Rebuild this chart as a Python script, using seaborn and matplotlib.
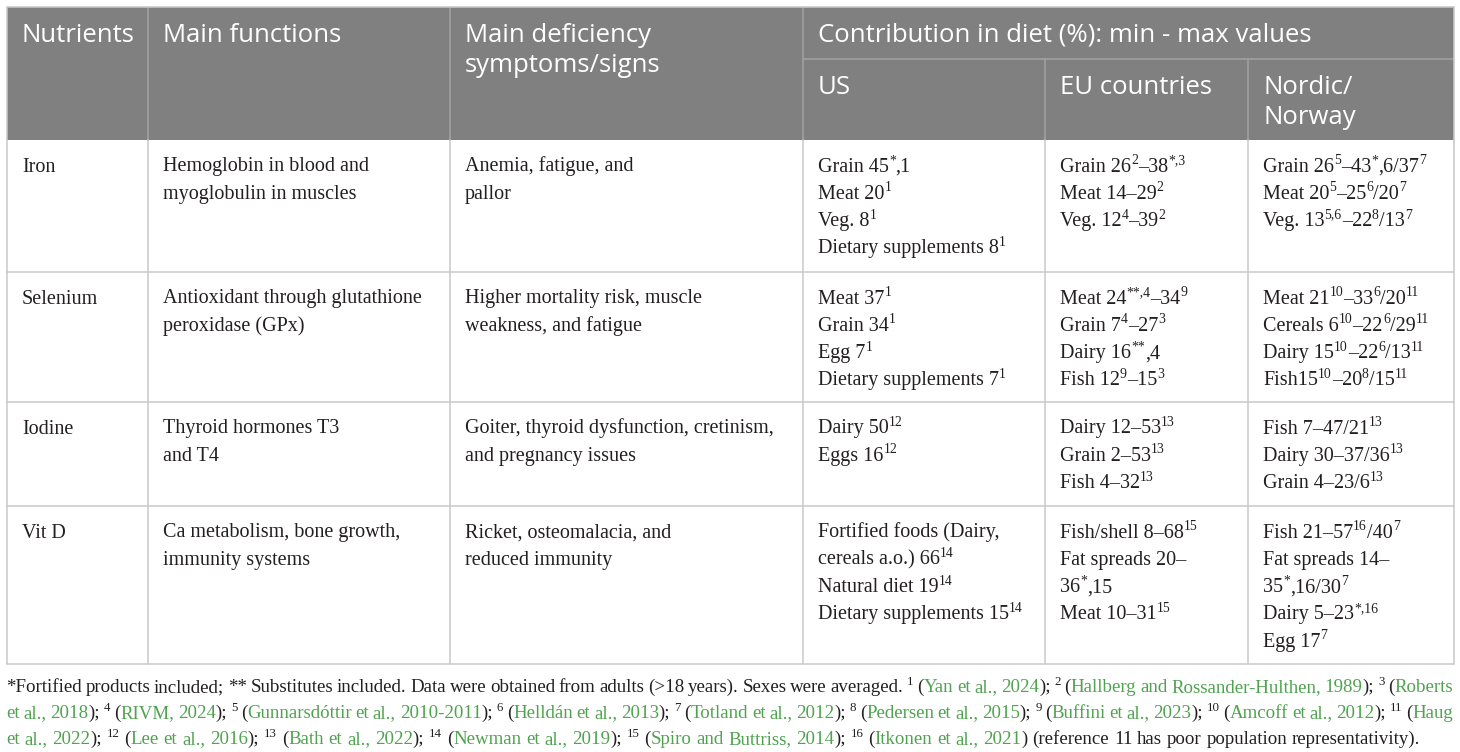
import re
import matplotlib
matplotlib.use("Agg")
import matplotlib.pyplot as plt
import seaborn as sns
from matplotlib.patches import Rectangle

sns.set_theme(style="white")
SERIF = ["Liberation Serif", "DejaVu Serif"]
SANS = ["Open Sans", "DejaVu Sans"]
plt.rcParams["font.family"] = SERIF

# ---------------- data ----------------
# ^{...} = superscript, [ ... ] = reference link (green)
header_main = ["Nutrients", "Main functions", "Main deficiency\nsymptoms/signs",
               "Contribution in diet (%): min - max values"]
header_sub = ["US", "EU countries", "Nordic/\nNorway"]

nutrients = ["Iron", "Selenium", "Iodine", "Vit D"]
functions = [
    ["Hemoglobin in blood and", "myoglobulin in muscles"],
    ["Antioxidant through glutathione", "peroxidase (GPx)"],
    ["Thyroid hormones T3", "and T4"],
    ["Ca metabolism, bone growth,", "immunity systems"],
]
symptoms = [
    ["Anemia, fatigue, and", "pallor"],
    ["Higher mortality risk, muscle", "weakness, and fatigue"],
    ["Goiter, thyroid dysfunction, cretinism,", "and pregnancy issues"],
    ["Ricket, osteomalacia, and", "reduced immunity"],
]
us_values = [
    ["Grain 45^{*},1", "Meat 20^{1}", "Veg. 8^{1}", "Dietary supplements 8^{1}"],
    ["Meat 37^{1}", "Grain 34^{1}", "Egg 7^{1}", "Dietary supplements 7^{1}"],
    ["Dairy 50^{12}", "Eggs 16^{12}"],
    ["Fortified foods (Dairy,", "cereals a.o.) 66^{14}", "Natural diet 19^{14}",
     "Dietary supplements 15^{14}"],
]
eu_values = [
    ["Grain 26^{2}–38^{*,3}", "Meat 14–29^{2}", "Veg. 12^{4}–39^{2}"],
    ["Meat 24^{**,4}–34^{9}", "Grain 7^{4}–27^{3}", "Dairy 16^{**},4", "Fish 12^{9}–15^{3}"],
    ["Dairy 12–53^{13}", "Grain 2–53^{13}", "Fish 4–32^{13}"],
    ["Fish/shell 8–68^{15}", "Fat spreads 20–", "36^{*},15", "Meat 10–31^{15}"],
]
nordic_values = [
    ["Grain 26^{5}–43^{*},6/37^{7}", "Meat 20^{5}–25^{6}/20^{7}", "Veg. 13^{5,6}–22^{8}/13^{7}"],
    ["Meat 21^{10}–33^{6}/20^{11}", "Cereals 6^{10}–22^{6}/29^{11}",
     "Dairy 15^{10}–22^{6}/13^{11}", "Fish15^{10}–20^{8}/15^{11}"],
    ["Fish 7–47/21^{13}", "Dairy 30–37/36^{13}", "Grain 4–23/6^{13}"],
    ["Fish 21–57^{16}/40^{7}", "Fat spreads 14–", "35^{*},16/30^{7}",
     "Dairy 5–23^{*,16}", "Egg 17^{7}"],
]
footnotes = [
    "*Fortified products included; ** Substitutes included. Data were obtained from adults "
    "(>18 years). Sexes were averaged. ^{1} ([Yan et al., 2024]); ^{2} ([Hallberg and "
    "Rossander-Hulthen, 1989]); ^{3} ([Roberts]",
    "[et al., 2018]); ^{4} ([RIVM, 2024]); ^{5} ([Gunnarsdóttir et al., 2010-2011]); "
    "^{6} ([Helldán et al., 2013]); ^{7} ([Totland et al., 2012]); ^{8} ([Pedersen et al., "
    "2015]); ^{9} ([Buffini et al., 2023]); ^{10} ([Amcoff et al., 2012]); ^{11} ([Haug]",
    "[et al., 2022]); ^{12} ([Lee et al., 2016]); ^{13} ([Bath et al., 2022]); ^{14} "
    "([Newman et al., 2019]); ^{15} ([Spiro and Buttriss, 2014]); ^{16} ([Itkonen et al., "
    "2021]) (reference 11 has poor population representativity).",
]
footnote_justify = [True, True, False]

# ---------------- style / layout ----------------
HEAD_BG = "#808080"
HEAD_LINE = "#a3a3a3"
GRID = "#c9c9c9"
TXT = "#231f20"
LINK = "#4fa34f"
HEAD_FS = 18.5
BODY_FS = 14.5
FOOT_FS = 13.6
SUP_SCALE = 0.68
SUP_RAISE = 0.37  # fraction of font size

W, H = 1460, 752
col_edges = [7, 148, 450, 803, 1045, 1248, 1454]
head_top, head_mid, head_bot = 7, 59, 140
row_edges = [140, 272, 402, 506, 664]
pad_x = 15
line_h = 27.3
first_off = 25
head_line_h = 29.5

fig = plt.figure(figsize=(W / 100, H / 100), dpi=100)
ax = fig.add_axes([0, 0, 1, 1])
ax.set_xlim(0, W)
ax.set_ylim(H, 0)
ax.axis("off")

# header background
ax.add_patch(Rectangle((col_edges[0], head_top), col_edges[-1] - col_edges[0],
                       head_bot - head_top, facecolor=HEAD_BG, edgecolor="none", zorder=1))
lw = 1.1
for x in col_edges[1:4]:
    ax.plot([x, x], [head_top, head_bot], color=HEAD_LINE, lw=lw, zorder=2)
for x in col_edges[4:6]:
    ax.plot([x, x], [head_mid, head_bot], color=HEAD_LINE, lw=lw, zorder=2)
ax.plot([col_edges[3], col_edges[-1]], [head_mid, head_mid], color=HEAD_LINE, lw=lw, zorder=2)
ax.plot([col_edges[0], col_edges[-1]], [head_top, head_top], color=GRID, lw=lw, zorder=2)
for x in [col_edges[0], col_edges[-1]]:
    ax.plot([x, x], [head_top, head_bot], color=GRID, lw=lw, zorder=2)

# body grid
for x in col_edges:
    ax.plot([x, x], [row_edges[0], row_edges[-1]], color=GRID, lw=lw, zorder=2)
for y in row_edges[1:]:
    ax.plot([col_edges[0], col_edges[-1]], [y, y], color=GRID, lw=lw, zorder=2)

# header text
def head_text(x, y_center, s):
    for i, ln in enumerate(s.split("\n")):
        ax.text(x, y_center + i * head_line_h + 9, ln, family=SANS, fontsize=HEAD_FS,
                color="white", va="baseline", ha="left", zorder=3)

for i, s in enumerate(header_main):
    head_text(col_edges[i] + pad_x, 33, s)
for i, s in enumerate(header_sub):
    head_text(col_edges[3 + i] + pad_x, 85, s)

# ---------------- rich text helpers ----------------
renderer = fig.canvas.get_renderer()
probe = ax.text(0, 0, "", family=SERIF)
_cache = {}


def width(s, fs):
    key = (s, fs)
    if key not in _cache:
        probe.set_fontsize(fs)
        probe.set_text("|" + s + "|")
        w1 = probe.get_window_extent(renderer).width
        probe.set_text("||")
        w2 = probe.get_window_extent(renderer).width
        _cache[key] = w1 - w2
    return _cache[key]


SUP_RE = re.compile(r"(\^\{[^}]*\})")


def parse_pieces(s, green=False):
    out = []
    for part in SUP_RE.split(s):
        if not part:
            continue
        if part.startswith("^{"):
            out.append((part[2:-1], True, green))
            continue
        buf = ""
        for ch in part:
            if ch in "[]":
                if buf:
                    out.append((buf, False, green))
                    buf = ""
                green = ch == "["
            else:
                buf += ch
        if buf:
            out.append((buf, False, green))
    return out, green


def piece_width(p, fs):
    text, sup, _ = p
    return width(text, fs * SUP_SCALE if sup else fs)


def draw_pieces(x, yb, pieces, fs):
    px = fs * 100 / 72
    for p in pieces:
        text, sup, green = p
        size = fs * SUP_SCALE if sup else fs
        dy = -SUP_RAISE * px if sup else 0
        ax.text(x, yb + dy, text, family=SERIF, fontsize=size,
                color=LINK if green else TXT, va="baseline", ha="left", zorder=3)
        x += piece_width(p, fs)
    return x


# body text
columns = [[[n] for n in nutrients], functions, symptoms, us_values, eu_values, nordic_values]
for c, col in enumerate(columns):
    for r, cell in enumerate(col):
        for k, ln in enumerate(cell):
            y = row_edges[r] + first_off + k * line_h + 6.5
            pieces, _ = parse_pieces(ln)
            draw_pieces(col_edges[c] + pad_x, y, pieces, BODY_FS)

# footnotes (word by word, first two lines justified)
space_w = width(" ", FOOT_FS)
x_left, x_right = 6, 1453
foot_y = [686, 712, 738]
for line, just, yc in zip(footnotes, footnote_justify, foot_y):
    green = False
    words = []
    for raw in line.split(" "):
        pcs, green = parse_pieces(raw, green)
        words.append(pcs)
    wsum = [sum(piece_width(p, FOOT_FS) for p in w) for w in words]
    gap = (x_right - x_left - sum(wsum)) / (len(words) - 1) if just else space_w
    x = x_left
    for w, ww in zip(words, wsum):
        draw_pieces(x, yc + 6, w, FOOT_FS)
        x += ww + gap
probe.remove()

fig.savefig("out.png", dpi=100, facecolor="white")
